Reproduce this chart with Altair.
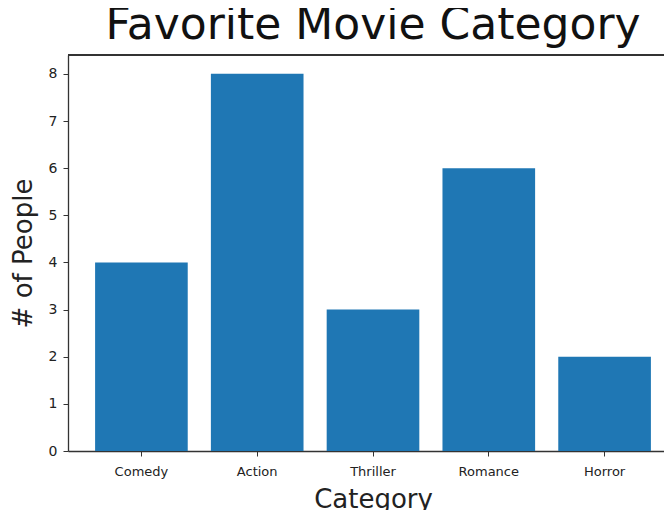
import altair as alt
import pandas as pd

categories = ["Comedy", "Action", "Thriller", "Romance", "Horror"]
people = [4, 8, 3, 6, 2]
y_ticks = [0, 1, 2, 3, 4, 5, 6, 7, 8]

df = pd.DataFrame({"Category": categories, "People": people})

bars = alt.Chart(df).mark_bar(color="#1f77b4").encode(
    x=alt.X("Category:N", sort=categories,
            scale=alt.Scale(paddingInner=0.2, paddingOuter=0.234),
            axis=alt.Axis(title="Category", labelAngle=0, labelFont="DejaVu Sans",
                          labelFontSize=13, labelColor="#222", labelPadding=9,
                          titleFont="DejaVu Sans", titleFontSize=26, titleFontWeight="normal",
                          titleColor="#222", titlePadding=8,
                          tickSize=5, tickColor="#333", domainColor="#333", domainWidth=1.3)),
    y=alt.Y("People:Q", scale=alt.Scale(domain=[0, 8.4], nice=False),
            axis=alt.Axis(title="# of People", values=y_ticks, grid=False, labelFont="DejaVu Sans",
                          labelFontSize=14, labelColor="#222", labelPadding=6,
                          titleFont="DejaVu Sans", titleFontSize=26, titleFontWeight="normal",
                          titleColor="#222", titlePadding=12,
                          tickSize=5, tickColor="#333", domainColor="#333", domainWidth=1.3)),
)

top_spine = alt.Chart(df).mark_rule(color="#333", strokeWidth=1.3).encode(
    y=alt.value(0), y2=alt.value(0), x=alt.value(0), x2=alt.value(640)
)

chart = alt.layer(bars, top_spine).properties(
    width=610, height=396,
    title=alt.TitleParams("Favorite Movie Category", font="DejaVu Sans", fontSize=44,
                          fontWeight="normal", color="#111", anchor="middle", offset=6),
    autosize=alt.AutoSizeParams(type="none"),
    padding={"left": 60, "top": 47, "right": -14, "bottom": 59},
).configure_view(strokeWidth=0, strokeOpacity=0)

chart.save("out.html", embed_options={"renderer": "svg", "actions": False})
